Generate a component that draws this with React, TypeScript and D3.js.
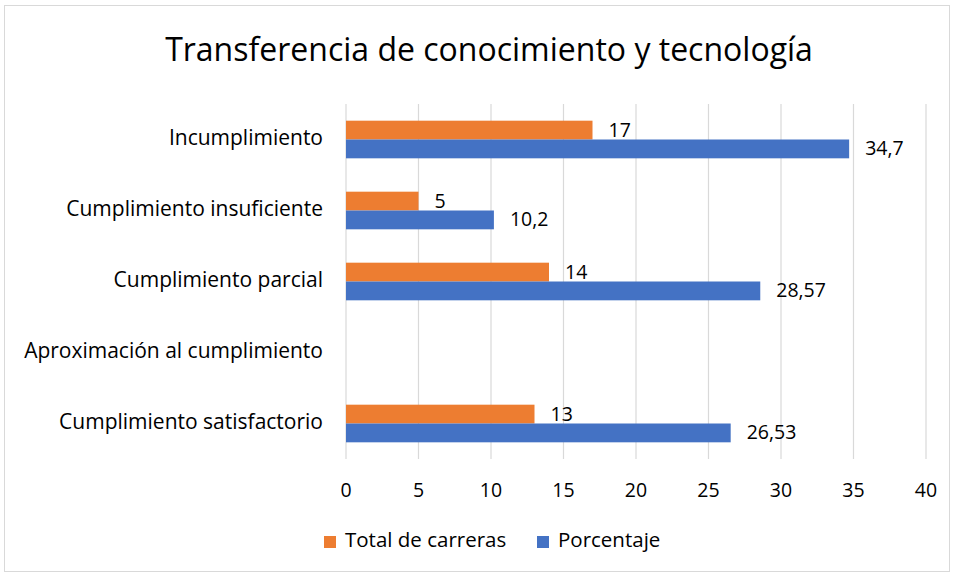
import React from "react";
import * as d3 from "d3";

const categories = [
  "Incumplimiento",
  "Cumplimiento insuficiente",
  "Cumplimiento parcial",
  "Aproximación al cumplimiento",
  "Cumplimiento satisfactorio",
];
const totalCarreras: (number | null)[] = [17, 5, 14, null, 13];
const porcentaje: (number | null)[] = [34.7, 10.2, 28.57, null, 26.53];
const seriesNames = ["Total de carreras", "Porcentaje"];
const seriesColors = ["#ED7D31", "#4472C4"];
const xTicks = [0, 5, 10, 15, 20, 25, 30, 35, 40];
const title = "Transferencia de conocimiento y tecnología";

const W = 955;
const H = 577;
const FONT = "'Open Sans', sans-serif";

export default function App() {
  const x = d3.scaleLinear().domain([0, 40]).range([346, 926]);
  const y = d3.scaleBand<string>().domain(categories).range([104, 459]).paddingInner(0.47).paddingOuter(0.235);
  const inner = d3.scaleBand<number>().domain([0, 1]).range([0, y.bandwidth()]);
  const series = [totalCarreras, porcentaje];
  const fmt = (v: number) => String(v).replace(".", ",");

  return (
    <svg width={W} height={H} style={{ position: "absolute", left: 0, top: 0, background: "#fff" }} fontFamily={FONT}>
      <rect x={4.5} y={5.5} width={945} height={566} fill="#fff" stroke="#D9D9D9" strokeWidth={1} />
      <text x={489} y={52} textAnchor="middle" dominantBaseline="middle" fontSize={32} fill="#000">{title}</text>
      {xTicks.map((t) => (
        <line key={t} x1={x(t)} x2={x(t)} y1={104} y2={459} stroke="#D9D9D9" strokeWidth={1.2} />
      ))}
      {xTicks.map((t) => (
        <text key={"l" + t} x={x(t)} y={491.5} textAnchor="middle" dominantBaseline="middle" fontSize={19.5} fill="#000">{t}</text>
      ))}
      {categories.map((c) => (
        <text key={c} x={323} y={(y(c) as number) + y.bandwidth() / 2} textAnchor="end" dominantBaseline="middle" fontSize={21} fill="#000">{c}</text>
      ))}
      {series.map((vals, si) =>
        categories.map((c, ci) => {
          const v = vals[ci];
          if (v == null) return null;
          const by = (y(c) as number) + (inner(si) as number);
          return (
            <g key={si + "-" + ci}>
              <rect x={x(0)} y={by} width={x(v) - x(0)} height={inner.bandwidth()} fill={seriesColors[si]} />
              <text x={x(v) + 16} y={by + inner.bandwidth() / 2 + (si === 0 ? 2 : 1)} dominantBaseline="middle" fontSize={19.5} fill="#000">{fmt(v)}</text>
            </g>
          );
        })
      )}
      {[0, 1].map((si) => {
        const lx = si === 0 ? 324 : 537;
        return (
          <g key={"leg" + si}>
            <rect x={lx} y={536} width={12} height={12} fill={seriesColors[si]} />
            <text x={lx + 21} y={542} dominantBaseline="middle" fontSize={20.5} fill="#000">{seriesNames[si]}</text>
          </g>
        );
      })}
    </svg>
  );
}
